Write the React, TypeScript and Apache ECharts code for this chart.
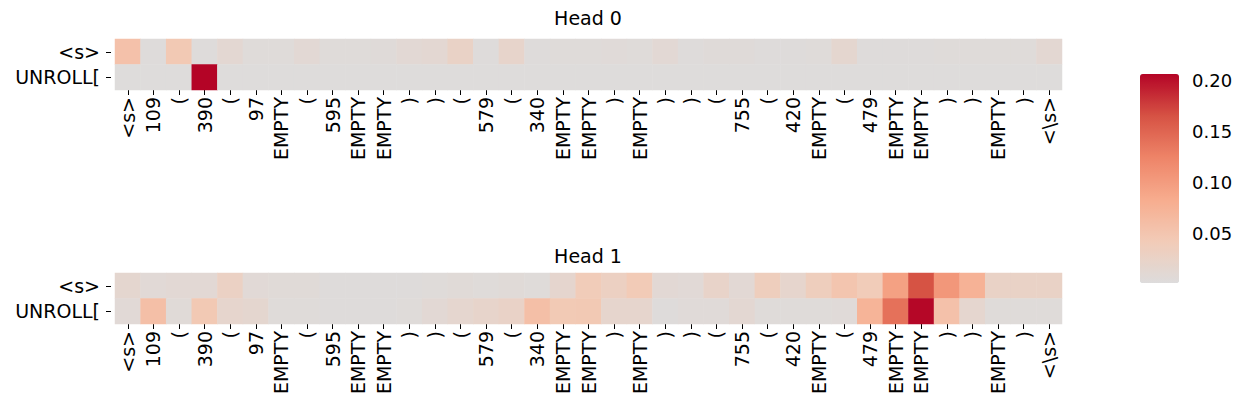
import React, { useEffect, useRef } from "react";
import * as echarts from "echarts";

const xLabels = [
  "<s>", "109", "(", "390", "(", "97", "EMPTY", "(", "595", "EMPTY", "EMPTY", ")", ")",
  "(", "579", "(", "340", "EMPTY", "EMPTY", ")", "EMPTY", ")", ")", "(", "755", "(",
  "420", "EMPTY", "(", "479", "EMPTY", "EMPTY", ")", ")", "EMPTY", ")", "<\\s>",
];
const yLabels = ["<s>", "UNROLL["];

const head0Start = [
  0.055, 0.003, 0.045, 0.003, 0.012, 0.004, 0.004, 0.010, 0.004, 0.004, 0.005, 0.010, 0.012,
  0.025, 0.003, 0.020, 0.003, 0.004, 0.004, 0.006, 0.004, 0.010, 0.003, 0.005, 0.005, 0.003,
  0.003, 0.004, 0.015, 0.003, 0.003, 0.003, 0.004, 0.004, 0.004, 0.004, 0.012,
];
const head0Unroll = [
  0.002, 0.002, 0.002, 0.2066, 0.002, 0.002, 0.002, 0.002, 0.002, 0.002, 0.002, 0.002, 0.002,
  0.002, 0.002, 0.002, 0.002, 0.002, 0.002, 0.002, 0.002, 0.002, 0.002, 0.002, 0.002, 0.002,
  0.002, 0.002, 0.002, 0.002, 0.002, 0.002, 0.002, 0.002, 0.002, 0.002, 0.002,
];
const head1Start = [
  0.015, 0.008, 0.010, 0.010, 0.028, 0.008, 0.007, 0.007, 0.003, 0.003, 0.003, 0.003, 0.004,
  0.007, 0.004, 0.007, 0.004, 0.017, 0.040, 0.030, 0.042, 0.010, 0.008, 0.022, 0.010, 0.035,
  0.018, 0.035, 0.050, 0.040, 0.095, 0.165, 0.105, 0.075, 0.025, 0.025, 0.025,
];
const head1Unroll = [
  0.008, 0.058, 0.007, 0.045, 0.018, 0.015, 0.004, 0.004, 0.003, 0.003, 0.003, 0.004, 0.010,
  0.016, 0.020, 0.024, 0.058, 0.044, 0.045, 0.018, 0.018, 0.003, 0.006, 0.006, 0.012, 0.004,
  0.004, 0.004, 0.006, 0.073, 0.140, 0.205, 0.055, 0.016, 0.004, 0.004, 0.004,
];
const colorbarTicks = [0.05, 0.1, 0.15, 0.2];
const titles = ["Head 0", "Head 1"];

const FONT = "DejaVu Sans";

function toCells(rows: number[][]) {
  const out: number[][] = [];
  rows.forEach((row, y) => row.forEach((v, x) => out.push([x, y, v])));
  return out;
}

export default function App() {
  const ref = useRef<HTMLDivElement>(null);
  useEffect(() => {
    if (!ref.current) return;
    const chart = echarts.init(ref.current, null, { renderer: "svg" });
    const gridTops = [39, 273];
    const xAxisCommon = (i: number) => ({
      type: "category",
      gridIndex: i,
      data: xLabels,
      position: "bottom",
      axisLine: { show: false },
      axisTick: { show: true, length: 5, alignWithLabel: true, lineStyle: { color: "#000", width: 1 } },
      axisLabel: {
        interval: 0,
        rotate: 90,
        margin: 7,
        color: "#000",
        fontSize: 19,
        fontFamily: FONT,
      },
      splitLine: { show: false },
    });
    const yAxisCommon = (i: number) => ({
      type: "category",
      gridIndex: i,
      data: yLabels,
      inverse: true,
      offset: 4,
      axisLine: { show: false },
      axisTick: { show: true, length: 5, alignWithLabel: true, lineStyle: { color: "#000", width: 1 } },
      axisLabel: { margin: 11, color: "#000", fontSize: 19, fontFamily: FONT },
      splitLine: { show: false },
    });
    chart.setOption({
      animation: false,
      backgroundColor: "#fff",
      grid: [
        { left: 115, top: gridTops[0], width: 947, height: 51 },
        { left: 115, top: gridTops[1], width: 947, height: 51 },
        { left: 1140, top: 74, width: 39, height: 209 },
      ],
      xAxis: [
        xAxisCommon(0),
        xAxisCommon(1),
        { type: "value", gridIndex: 2, show: false, min: 0, max: 1 },
      ],
      yAxis: [
        yAxisCommon(0),
        yAxisCommon(1),
        {
          type: "value",
          gridIndex: 2,
          position: "right",
          min: 0.001,
          max: 0.2066,
          axisLine: { show: false },
          splitLine: { show: false },
          axisTick: {
            show: true,
            length: 5,
            customValues: colorbarTicks,
            lineStyle: { color: "#000", width: 1 },
          },
          axisLabel: {
            customValues: colorbarTicks,
            margin: 13,
            color: "#000",
            fontSize: 18,
            fontFamily: FONT,
            formatter: (v: number) => v.toFixed(2),
          },
        },
      ],
      visualMap: {
        type: "continuous",
        seriesIndex: [0, 1],
        min: 0.001,
        max: 0.2066,
        calculable: false,
        realtime: false,
        hoverLink: false,
        left: 1140,
        top: 74,
        padding: 0,
        itemWidth: 39,
        itemHeight: 209,
        text: null,
        inRange: {
          color: ["#dddcdc", "#f2cbb7", "#f7ac8e", "#ee8468", "#d65244", "#b40426"],
        },
      },
      graphic: titles.map((t, i) => ({
        type: "text",
        x: 588,
        y: i === 0 ? 18 : 256,
        style: {
          text: t,
          font: `19px "${FONT}"`,
          fill: "#000",
          align: "center",
          verticalAlign: "middle",
        },
      })),
      series: [
        {
          type: "heatmap",
          xAxisIndex: 0,
          yAxisIndex: 0,
          data: toCells([head0Start, head0Unroll]),
          itemStyle: { borderWidth: 0 },
          emphasis: { disabled: true },
        },
        {
          type: "heatmap",
          xAxisIndex: 1,
          yAxisIndex: 1,
          data: toCells([head1Start, head1Unroll]),
          itemStyle: { borderWidth: 0 },
          emphasis: { disabled: true },
        },
      ],
    });
    return () => chart.dispose();
  }, []);
  return (
    <div
      ref={ref}
      style={{ position: "fixed", left: 0, top: 0, width: 1245, height: 417, background: "#fff" }}
    />
  );
}
